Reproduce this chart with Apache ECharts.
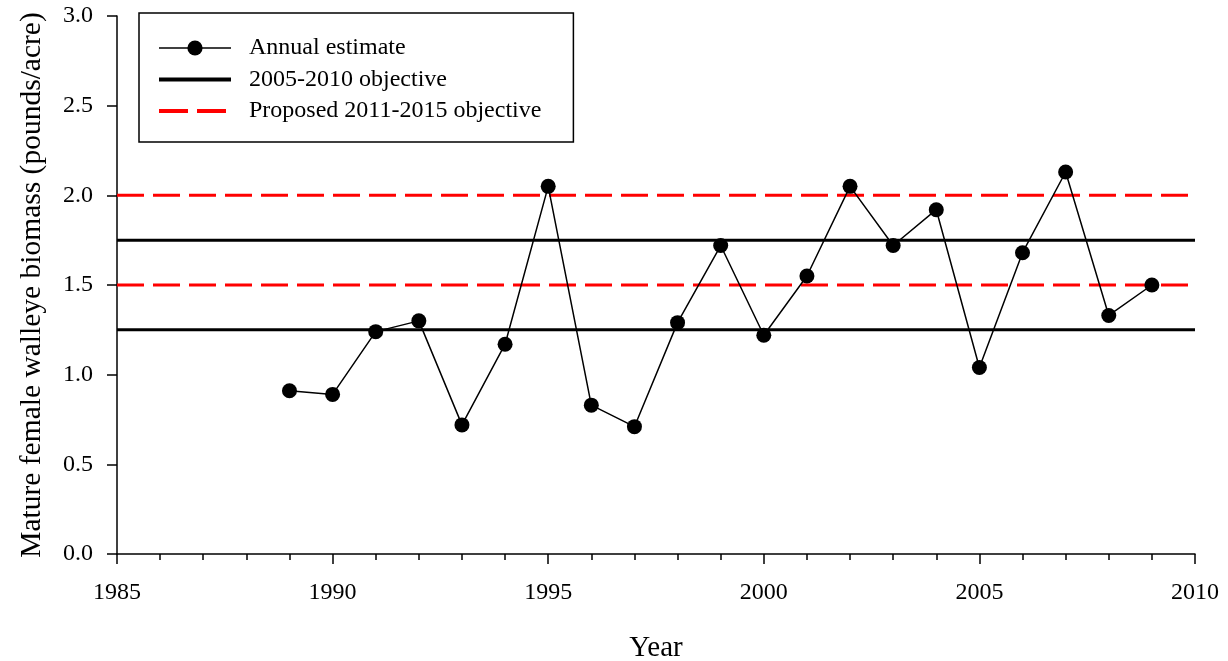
<!DOCTYPE html>
<html>
<head>
<meta charset="utf-8">
<script src="https://cdn.jsdelivr.net/npm/echarts@6/dist/echarts.min.js"></script>
<style>
html,body{margin:0;padding:0;background:#fff;}
#chart{width:1228px;height:661px;}
</style>
</head>
<body>
<div id="chart"></div>
<script>
const years = [1989,1990,1991,1992,1993,1994,1995,1996,1997,1998,1999,2000,2001,2002,2003,2004,2005,2006,2007,2008,2009];
const biomass = [0.91,0.89,1.24,1.30,0.72,1.17,2.05,0.83,0.71,1.29,1.72,1.22,1.55,2.05,1.72,1.92,1.04,1.68,2.13,1.33,1.50];
const objective20052010 = [1.25, 1.75];
const objectiveProposed = [1.5, 2.0];
const xRange = [1985, 2010];
const yTicks = ['0.0','0.5','1.0','1.5','2.0','2.5','3.0'];

const FONT = "'Liberation Serif','Times New Roman',serif";
const series = [{
  name: 'Annual estimate',
  type: 'line',
  data: years.map((y, i) => [y, biomass[i]]),
  symbol: 'circle',
  symbolSize: 15,
  itemStyle: {color: '#000'},
  lineStyle: {color: '#000', width: 1.5},
  z: 5,
  animation: false
}];
objective20052010.forEach(v => series.push({
  name: '2005-2010 objective',
  type: 'line',
  data: [[xRange[0], v], [xRange[1], v]],
  symbol: 'none',
  itemStyle: {color: '#000'},
  lineStyle: {color: '#000', width: 3},
  z: 3,
  animation: false
}));
objectiveProposed.forEach(v => series.push({
  name: 'Proposed 2011-2015 objective',
  type: 'line',
  data: [[xRange[0], v], [xRange[1], v]],
  symbol: 'none',
  itemStyle: {color: '#ff0000'},
  lineStyle: {color: '#ff0000', width: 3, type: [27, 9]},
  z: 3,
  animation: false
}));

const chart = echarts.init(document.getElementById('chart'));
chart.setOption({
  backgroundColor: '#fff',
  animation: false,
  textStyle: {fontFamily: FONT},
  grid: {left: 117, right: 33, top: 16, bottom: 107, containLabel: false, outerBoundsMode: 'none'},
  legend: {
    data: [
      {name: 'Annual estimate', lineStyle: {width: 1.5}},
      {name: '2005-2010 objective', itemStyle: {opacity: 0}, lineStyle: {width: 4}},
      {name: 'Proposed 2011-2015 objective', itemStyle: {opacity: 0}, lineStyle: {width: 4, type: [29, 9]}}
    ],
    orient: 'vertical',
    left: 139,
    top: 13,
    padding: [23, 32, 19, 18],
    itemWidth: 72,
    itemHeight: 19,
    itemGap: 7.5,
    borderColor: '#000',
    borderWidth: 1.5,
    backgroundColor: '#fff',
    selectedMode: false,
    textStyle: {fontFamily: FONT, fontSize: 24, color: '#000', padding: [0, 0, 0, 13]}
  },
  xAxis: {
    type: 'value',
    min: xRange[0],
    max: xRange[1],
    interval: 5,
    name: 'Year',
    nameLocation: 'middle',
    nameGap: 80,
    nameTextStyle: {fontFamily: FONT, fontSize: 29, color: '#000'},
    axisLine: {show: true, onZero: false, lineStyle: {color: '#000', width: 1.5}},
    axisTick: {show: true, inside: false, length: 10, lineStyle: {color: '#000', width: 1.5}},
    minorTick: {show: true, splitNumber: 5, length: 6, lineStyle: {color: '#000', width: 1.5}},
    axisLabel: {fontFamily: FONT, fontSize: 24, color: '#000', margin: 27,
      formatter: v => String(v)},
    splitLine: {show: false}
  },
  yAxis: {
    type: 'value',
    min: 0,
    max: 3,
    interval: 0.5,
    name: 'Mature female walleye biomass (pounds/acre)',
    nameLocation: 'middle',
    nameGap: 70,
    nameTextStyle: {fontFamily: FONT, fontSize: 29.5, color: '#000'},
    axisLine: {show: true, lineStyle: {color: '#000', width: 1.5}},
    axisTick: {show: true, inside: false, length: 10, lineStyle: {color: '#000', width: 1.5}},
    axisLabel: {fontFamily: FONT, fontSize: 24, color: '#000', margin: 24,
      formatter: v => yTicks[Math.round(v / 0.5)]},
    splitLine: {show: false}
  },
  series: series
});
</script>
</body>
</html>
